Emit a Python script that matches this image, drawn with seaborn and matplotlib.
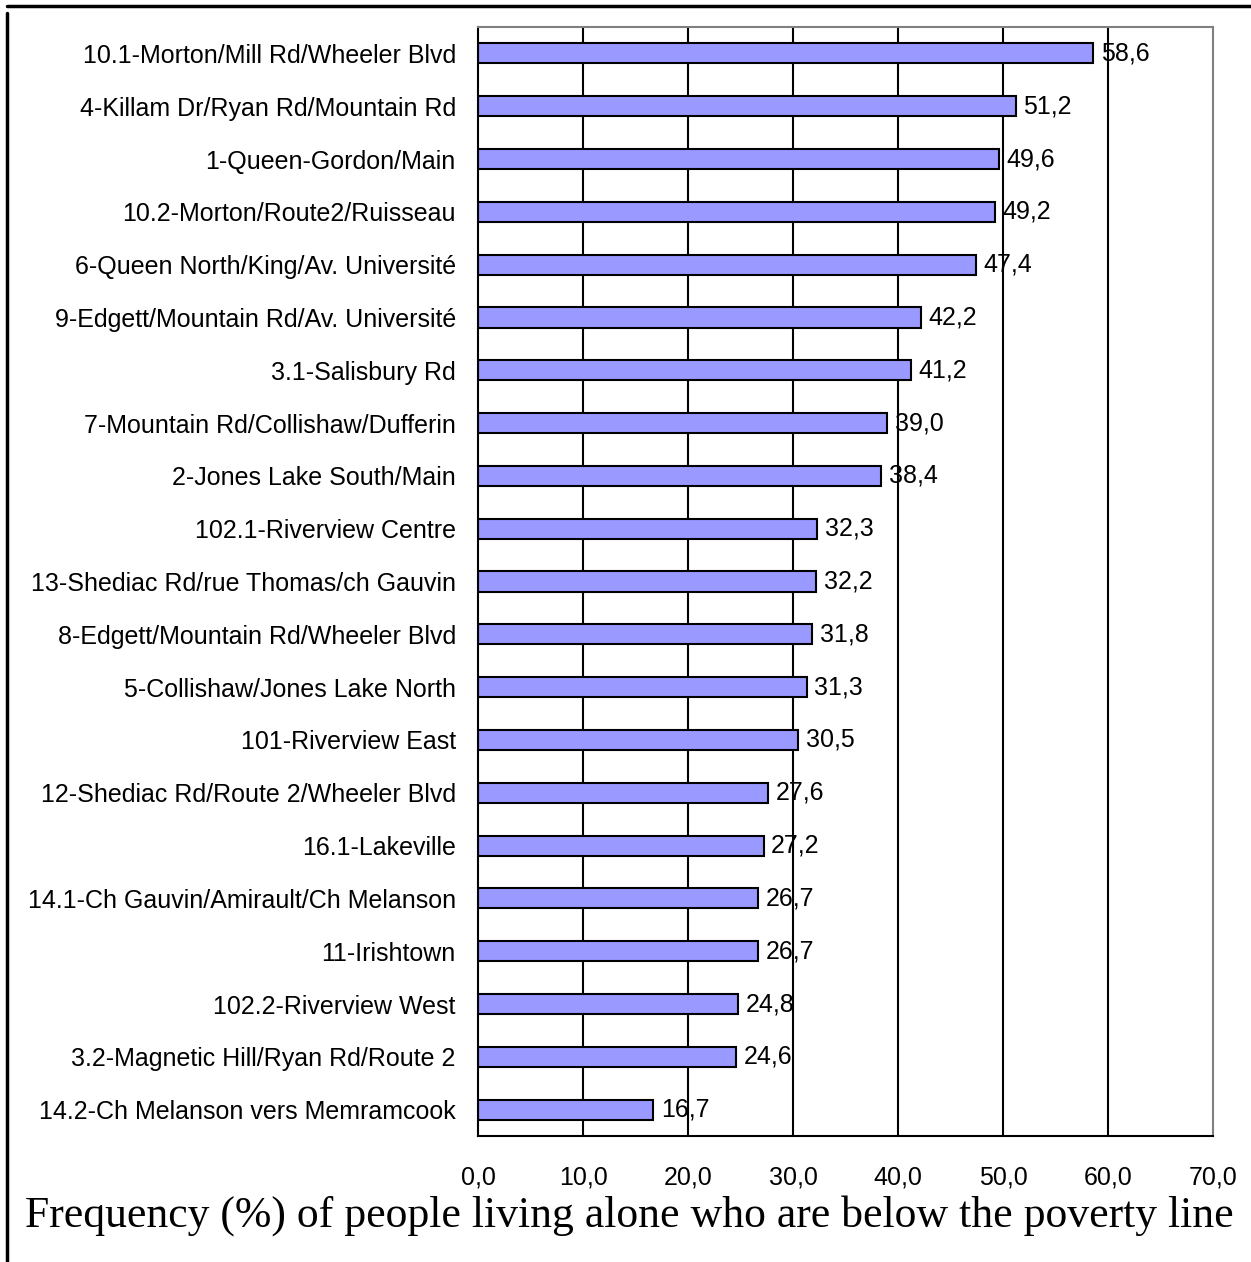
import numpy as np
import pandas as pd
import seaborn as sns
import matplotlib.pyplot as plt
from matplotlib.lines import Line2D
from matplotlib.ticker import FixedLocator

areas = [
    "10.1-Morton/Mill Rd/Wheeler Blvd",
    "4-Killam Dr/Ryan Rd/Mountain Rd",
    "1-Queen-Gordon/Main",
    "10.2-Morton/Route2/Ruisseau",
    "6-Queen North/King/Av. Université",
    "9-Edgett/Mountain Rd/Av. Université",
    "3.1-Salisbury Rd",
    "7-Mountain Rd/Collishaw/Dufferin",
    "2-Jones Lake South/Main",
    "102.1-Riverview Centre",
    "13-Shediac Rd/rue Thomas/ch Gauvin",
    "8-Edgett/Mountain Rd/Wheeler Blvd",
    "5-Collishaw/Jones Lake North",
    "101-Riverview East",
    "12-Shediac Rd/Route 2/Wheeler Blvd",
    "16.1-Lakeville",
    "14.1-Ch Gauvin/Amirault/Ch Melanson",
    "11-Irishtown",
    "102.2-Riverview West",
    "3.2-Magnetic Hill/Ryan Rd/Route 2",
    "14.2-Ch Melanson vers Memramcook",
]
freq = [58.6, 51.2, 49.6, 49.2, 47.4, 42.2, 41.2, 39.0, 38.4, 32.3, 32.2,
        31.8, 31.3, 30.5, 27.6, 27.2, 26.7, 26.7, 24.8, 24.6, 16.7]
xticks = [0, 10, 20, 30, 40, 50, 60, 70]

df = pd.DataFrame({"area": areas, "freq": freq})

sns.set_style("white")
plt.rcParams["font.family"] = ["Liberation Sans", "DejaVu Sans"]
plt.rcParams["text.color"] = "black"
plt.rcParams["xtick.color"] = "black"
plt.rcParams["ytick.color"] = "black"

fig = plt.figure(figsize=(12.51, 12.62), dpi=100)
ax = fig.add_axes([0.3821, 0.0998, 0.5875, 0.8788])

sns.barplot(data=df, x="freq", y="area", orient="h", color="#9999FF",
            edgecolor="black", linewidth=1.5, width=0.38, saturation=1, ax=ax)

ax.set_xlim(0, 70)
ax.set_ylim(len(areas) - 0.5, -0.5)
ax.set_xticks(xticks)
ax.set_xticklabels([f"{v:.1f}".replace(".", ",") for v in xticks], fontsize=18)
ax.tick_params(axis="x", direction="out", length=8, width=1.5, color="black", pad=13)
ax.tick_params(axis="y", which="major", length=0, labelsize=18, pad=16)
ax.yaxis.set_minor_locator(FixedLocator(np.arange(-0.5, len(areas), 1.0)))
ax.tick_params(axis="y", which="minor", direction="out", length=8, width=1.5, color="black")
ax.set_xlabel("")
ax.set_ylabel("")

for v in xticks[1:-1]:
    ax.axvline(v, color="black", linewidth=1.5, zorder=0)
ax.set_axisbelow(True)

for side in ["left", "bottom"]:
    ax.spines[side].set_color("black")
    ax.spines[side].set_linewidth(1.5)
for side in ["top", "right"]:
    ax.spines[side].set_color("#808080")
    ax.spines[side].set_linewidth(1.5)

ax.bar_label(ax.containers[0], labels=[f"{v:.1f}".replace(".", ",") for v in freq],
             padding=5.5, fontsize=18, color="black")

fig.add_artist(Line2D([7 / 1251, 1], [0.9952, 0.9952], color="black", linewidth=2.5))
fig.add_artist(Line2D([7 / 1251, 7 / 1251], [0, 0.9897], color="black", linewidth=2.5))

fig.text(25 / 1251, 0.028, "Frequency (%) of people living alone who are below the poverty line",
         family="Liberation Serif", fontsize=31.5, va="baseline", ha="left", color="black")

fig.savefig("out.png", dpi=100)
